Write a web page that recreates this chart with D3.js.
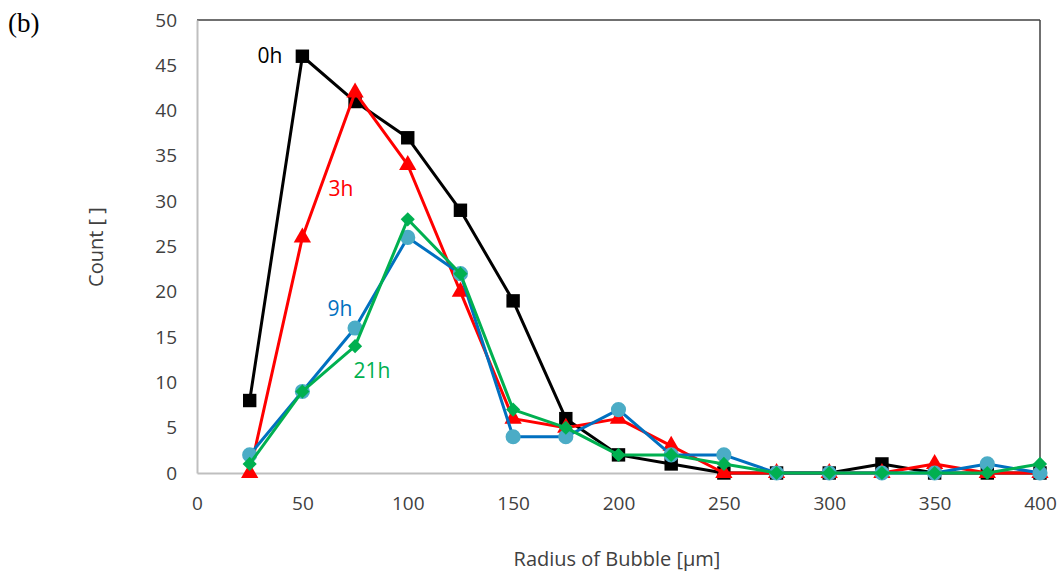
<!DOCTYPE html>
<html>
<head>
<meta charset="utf-8">
<script src="https://cdn.jsdelivr.net/npm/d3@7"></script>
<style>
  body { margin: 0; background: #fff; }
  text { font-family: "Open Sans", "DejaVu Sans", sans-serif; }
</style>
</head>
<body>
<div id="chart"></div>
<script>
var svgWidth = 1064;
var svgHeight = 576;

var margin = { top: 20, right: 24, bottom: 103, left: 197 };
var width = 1040 - margin.left;
var height = svgHeight - margin.top - margin.bottom;

// data
var radius = [25, 50, 75, 100, 125, 150, 175, 200, 225, 250, 275, 300, 325, 350, 375, 400];
var count0h  = [8, 46, 41, 37, 29, 19, 6, 2, 1, 0, 0, 0, 1, 0, 0, 0];
var count3h  = [0, 26, 42, 34, 20, 6, 5, 6, 3, 0, 0, 0, 0, 1, 0, 0];
var count9h  = [2, 9, 16, 26, 22, 4, 4, 7, 2, 2, 0, 0, 0, 0, 1, 0];
var count21h = [1, 9, 14, 28, 22, 7, 5, 2, 2, 1, 0, 0, 0, 0, 0, 1];
var xTicks = [0, 50, 100, 150, 200, 250, 300, 350, 400];
var yTicks = [0, 5, 10, 15, 20, 25, 30, 35, 40, 45, 50];

var series = [
  { name: "0h", values: count0h, line: "#000000", fill: "#000000", shape: d3.symbolSquare, size: 180, rot: 0, label: [270, 57] },
  { name: "3h", values: count3h, line: "#ff0000", fill: "#ff0000", shape: d3.symbolTriangle, size: 130, rot: 0, label: [341, 190] },
  { name: "9h", values: count9h, line: "#0070c0", fill: "#4bacc6", shape: d3.symbolCircle, size: 180, rot: 0, label: [340, 310] },
  { name: "21h", values: count21h, line: "#00b050", fill: "#00b050", shape: d3.symbolSquare, size: 100, rot: 45, label: [372, 372] }
];
var labelColors = { "0h": "#000000", "3h": "#ff0000", "9h": "#0070c0", "21h": "#00b050" };

var svg = d3.select("#chart").append("svg")
  .attr("width", svgWidth)
  .attr("height", svgHeight);

var chartGroup = svg.append("g")
  .attr("transform", `translate(${margin.left}, ${margin.top})`);

var xScale = d3.scaleLinear().domain([0, 400]).range([0, width]);
var yScale = d3.scaleLinear().domain([0, 50]).range([height, 0]);

// frame: dark top and right, light left and bottom
chartGroup.append("line").attr("x1", 0).attr("x2", width).attr("y1", 0).attr("y2", 0)
  .attr("stroke", "#404040").attr("stroke-width", 1.5);
chartGroup.append("line").attr("x1", width).attr("x2", width).attr("y1", 0).attr("y2", height)
  .attr("stroke", "#404040").attr("stroke-width", 1.5);

// axes
var xAxis = chartGroup.append("g")
  .attr("transform", `translate(0,${height})`)
  .call(d3.axisBottom(xScale).tickValues(xTicks).tickSize(0).tickPadding(24));
var yAxis = chartGroup.append("g")
  .call(d3.axisLeft(yScale).tickValues(yTicks).tickSize(0).tickPadding(20));

[xAxis, yAxis].forEach(function(ax) {
  ax.select(".domain").attr("stroke", "#bfbfbf").attr("stroke-width", 2);
  ax.selectAll("text").attr("font-size", 19).attr("fill", "#404040")
    .style("font-family", '"Open Sans", sans-serif');
});

// lines and markers
var line = d3.line()
  .x(function(d, i) { return xScale(radius[i]); })
  .y(function(d) { return yScale(d); });

series.forEach(function(s) {
  chartGroup.append("path")
    .datum(s.values)
    .attr("fill", "none")
    .attr("stroke", s.line)
    .attr("stroke-width", 3)
    .attr("stroke-linejoin", "round")
    .attr("d", line);

  chartGroup.selectAll(null)
    .data(s.values)
    .enter()
    .append("path")
    .attr("transform", function(d, i) {
      return `translate(${xScale(radius[i])},${yScale(d)}) rotate(${s.rot})`;
    })
    .attr("d", d3.symbol().type(s.shape).size(s.size))
    .attr("fill", s.fill);
});

// series labels
series.forEach(function(s) {
  svg.append("text")
    .attr("x", s.label[0])
    .attr("y", s.label[1])
    .attr("text-anchor", "middle")
    .attr("dominant-baseline", "middle")
    .attr("font-size", 21)
    .attr("fill", labelColors[s.name])
    .text(s.name);
});

// axis titles
svg.append("text")
  .attr("transform", "translate(98,247) rotate(-90)")
  .attr("text-anchor", "middle")
  .attr("dominant-baseline", "middle")
  .attr("font-size", 20)
  .attr("fill", "#404040")
  .text("Count [ ]");

svg.append("text")
  .attr("x", 617)
  .attr("y", 561)
  .attr("text-anchor", "middle")
  .attr("dominant-baseline", "middle")
  .attr("font-size", 20)
  .attr("fill", "#404040")
  .text("Radius of Bubble [μm]");

svg.append("text")
  .attr("x", 8)
  .attr("y", 32)
  .attr("font-size", 27)
  .style("font-family", '"Liberation Serif", serif')
  .attr("fill", "#000")
  .text("(b)");
</script>
</body>
</html>
